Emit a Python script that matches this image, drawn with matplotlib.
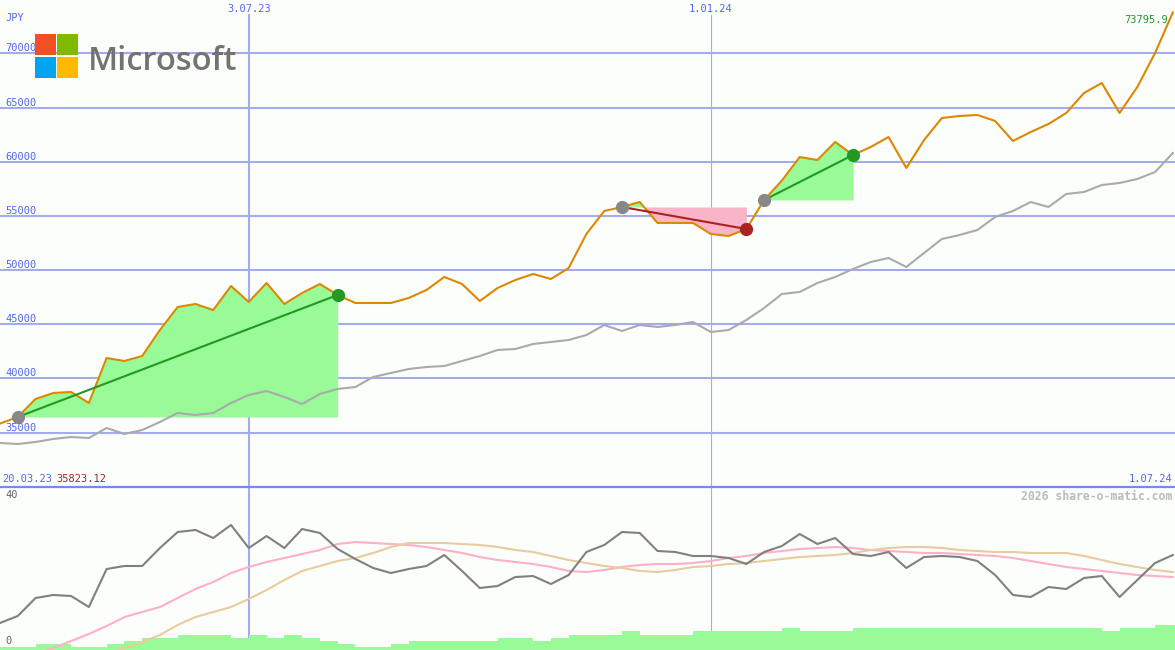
import matplotlib
matplotlib.use("Agg")
import matplotlib.pyplot as plt
import matplotlib.transforms as mtransforms
from matplotlib.patches import Rectangle
import numpy as np

# weekly closes, Microsoft in JPY (first week 27.03.23)
price = [35823.12, 36434, 38096, 38651, 38743, 37727, 41882, 41605, 42067, 44468,
         46592, 46869, 46315, 48531, 47054, 48808, 46869, 47885, 48716, 47700,
         46962, 46962, 46962, 47423, 48162, 49362, 48716, 47146, 48347, 49085,
         49639, 49178, 50193, 53333, 55457, 55826, 56288, 54349, 54349, 54349,
         53333, 53149, 53795, 56473, 58269, 60442, 60165, 61828, 60627, 61366,
         62289, 59427, 62012, 64044, 64229, 64321, 63767, 61920, 62751, 63490,
         64506, 66353, 67276, 64506, 66907, 70046, 73795.9]

bench = [34034, 33942, 34127, 34404, 34588, 34496, 35419, 34865, 35234, 35973,
         36804, 36619, 36804, 37728, 38466, 38836, 38282, 37635, 38559, 39021,
         39206, 40129, 40498, 40867, 41051, 41144, 41605, 42067, 42621, 42713,
         43175, 43360, 43545, 44006, 44930, 44376, 44930, 44745, 44930, 45207,
         44283, 44468, 45391, 46500, 47792, 47977, 48808, 49362, 50101, 50747,
         51117, 50286, 51578, 52871, 53240, 53702, 54902, 55456, 56288, 55826,
         57026, 57211, 57857, 58042, 58411, 59058, 60812]

osc = [6.75, 8.5, 13, 13.75, 13.5, 10.75, 20.25, 21, 21, 25.5,
       29.5, 30, 28, 31.25, 25.5, 28.5, 25.5, 30.25, 29.25, 25.25,
       22.75, 20.5, 19.25, 20.25, 21, 23.75, 19.75, 15.5, 16, 18.25,
       18.5, 16.5, 18.75, 24.5, 26.25, 29.5, 29.25, 24.75, 24.5, 23.5,
       23.5, 23, 21.5, 24.5, 26, 29, 26.5, 28, 24, 23.5,
       24.5, 20.5, 23.25, 23.5, 23.25, 22.25, 18.75, 13.75, 13.25, 15.75,
       15.25, 18, 18.5, 13.25, 17.5, 21.75, 23.75]

ma_pink = [np.nan, np.nan, -1, 0.5, 2.25, 4, 6, 8.25, 9.5, 10.75,
           13, 15.25, 17, 19.25, 20.75, 22, 23, 24, 25, 26.5,
           27, 26.75, 26.5, 26.25, 25.75, 25, 24.25, 23.25, 22.5, 22,
           21.5, 20.75, 19.75, 19.5, 20, 20.75, 21.25, 21.5, 21.5, 21.75,
           22.25, 23, 23.5, 24.25, 24.75, 25.25, 25.5, 25.75, 25.5, 25,
           24.75, 24.5, 24.25, 24.25, 24, 23.75, 23.5, 23, 22.25, 21.5,
           20.75, 20.25, 19.75, 19.25, 18.75, 18.5, 18.25]

ma_tan = [np.nan, np.nan, np.nan, np.nan, np.nan, np.nan, -1, 0.5, 2, 3.75,
          6.25, 8.25, 9.5, 10.75, 12.75, 15, 17.5, 19.75, 21, 22.25,
          23, 24.25, 25.75, 26.75, 26.75, 26.75, 26.5, 26.25, 25.75, 25,
          24.5, 23.5, 22.5, 21.75, 21, 20.5, 19.75, 19.5, 20, 20.75,
          21, 21.5, 21.75, 22.25, 22.75, 23.25, 23.5, 23.75, 24.25, 25,
          25.5, 25.75, 25.75, 25.5, 25, 24.75, 24.5, 24.5, 24.25, 24.25,
          24.25, 23.5, 22.5, 21.5, 20.75, 20, 19.5]

bars = [0.75, 0.75, 1.5, 1.5, 0.75, 0.75, 1.5, 2.25, 3, 3,
        3.75, 3.75, 3.75, 3, 3.75, 3, 3.75, 3, 2.25, 1.5,
        0.75, 0.75, 1.5, 2.25, 2.25, 2.25, 2.25, 2.25, 3, 3,
        2.25, 3, 3.75, 3.75, 3.75, 4.75, 3.75, 3.75, 3.75, 4.75,
        4.75, 4.75, 4.75, 4.75, 5.5, 4.75, 4.75, 4.75, 5.5, 5.5,
        5.5, 5.5, 5.5, 5.5, 5.5, 5.5, 5.5, 5.5, 5.5, 5.5,
        5.5, 5.5, 4.75, 5.5, 5.5, 6.25, 6.25]

buys = [1, 35, 43]
sells = [19, 42, 48]

grid_levels = [35000, 40000, 45000, 50000, 55000, 60000, 65000, 70000]
date_marks = [14, 40]
date_labels = ["3.07.23", "1.01.24"]

W, H = 1175, 650
bg = "#fcfefc"
blue = "#5566ee"
gridc = "#a4acf0"
mono = "DejaVu Sans Mono"

x = np.arange(len(price))
price = np.array(price)

fig = plt.figure(figsize=(W / 100, H / 100), dpi=100, facecolor=bg)
ax = fig.add_axes([0, 163 / H, 1, 487 / H], facecolor=bg)
ax2 = fig.add_axes([0, 0, 1, 163 / H], facecolor=bg)

for a in (ax, ax2):
    a.set_xlim(0, 66.12)
    a.set_xticks([])
    a.set_yticks([])
    for s in a.spines.values():
        s.set_visible(False)
ax.set_ylim(29970, 74940)
ax2.set_ylim(0, 40.75)
ax2.spines["top"].set_visible(True)
ax2.spines["top"].set_color("#7888ee")
ax2.spines["top"].set_linewidth(1.6)

# grid
for v in grid_levels:
    ax.axhline(v, color=gridc, lw=1.5, zorder=1)
for d, w in zip(date_marks, [1.5, 0.8]):
    ax.axvline(d, ymax=0.969, color=gridc, lw=w, zorder=1)
    ax2.axvline(d, color=gridc, lw=w, zorder=1)

# trades
for b, s in zip(buys, sells):
    seg = slice(b, s + 1)
    ax.fill_between(x[seg], price[b], price[seg], where=price[seg] >= price[b],
                    interpolate=True, color="#98fb98", lw=0, zorder=2)
    ax.fill_between(x[seg], price[b], price[seg], where=price[seg] < price[b],
                    interpolate=True, color="#f9b4c8", lw=0, zorder=2)

ax.plot(x, bench, color="#aaaaaa", lw=1.5, zorder=3)
ax.plot(x, price, color="#dd8800", lw=1.5, zorder=4)

for b, s in zip(buys, sells):
    c = "#229922" if price[s] > price[b] else "#aa2222"
    ax.plot([b, s], [price[b], price[s]], color=c, lw=1.5, zorder=5)
    ax.plot(b, price[b], "o", ms=8.5, color="#888888", zorder=6)
    ax.plot(s, price[s], "o", ms=8.5, color=c, zorder=6)

# labels on the price axis
ylab = mtransforms.offset_copy(
    mtransforms.blended_transform_factory(ax.transAxes, ax.transData),
    fig=fig, y=2, units="dots")
for v in grid_levels:
    ax.text(5 / W, v, str(v), transform=ylab, fontsize=7.5, family=mono,
            color=blue, va="baseline", zorder=7)
ax.text(5 / W, 1 - 18 / 487, "JPY", transform=ax.transAxes, fontsize=7.5,
        family=mono, color=blue, va="center")
dlab = mtransforms.blended_transform_factory(ax.transData, ax.transAxes)
for d, t in zip(date_marks, date_labels):
    ax.text(d, 1 - 9 / 487, t, transform=dlab, fontsize=7.5, family=mono,
            color=blue, ha="center", va="center")

fig.text(1168 / W, 1 - 20 / H, "73795.9", fontsize=7.5, family=mono,
         color="#229922", ha="right", va="center")
fig.text(2 / W, 1 - 479 / H, "20.03.23", fontsize=7.5, family=mono,
         color=blue, va="center")
fig.text(56 / W, 1 - 479 / H, "35823.12", fontsize=7.5, family=mono,
         color="#aa2222", va="center")
fig.text(1172 / W, 1 - 479 / H, "1.07.24", fontsize=7.5, family=mono,
         color=blue, ha="right", va="center")
fig.text(1172 / W, 1 - 496 / H, "2026 share-o-matic.com", fontsize=8.3,
         family=mono, weight="bold", color="#bbbbbb", ha="right", va="center")
fig.text(5 / W, 1 - 495 / H, "40", fontsize=7.5, family=mono,
         color="#666666", va="center")
fig.text(5 / W, 1 - 641 / H, "0", fontsize=7.5, family=mono,
         color="#666666", va="center")

# lower panel
ax2.bar(x, bars, width=1, align="edge", color="#98fb98", lw=0, zorder=2)
ax2.plot(x, ma_pink, color="#ffb0c8", lw=1.5, zorder=3)
ax2.plot(x, ma_tan, color="#e8cc9c", lw=1.5, zorder=3)
ax2.plot(x, osc, color="#808080", lw=1.5, zorder=4)

# logo
for (lx, ly), c in zip([(35, 34), (57, 34), (35, 57), (57, 57)],
                       ["#f25022", "#7fba00", "#00a4ef", "#ffb900"]):
    fig.add_artist(Rectangle((lx / W, 1 - (ly + 21) / H), 21 / W, 21 / H,
                             transform=fig.transFigure, color=c, lw=0))
fig.text(88 / W, 1 - 70 / H, "Microsoft", fontsize=23.5, family="Open Sans",
         weight="semibold", color="#737373", va="baseline")

fig.savefig("out.png", dpi=100, facecolor=bg)
